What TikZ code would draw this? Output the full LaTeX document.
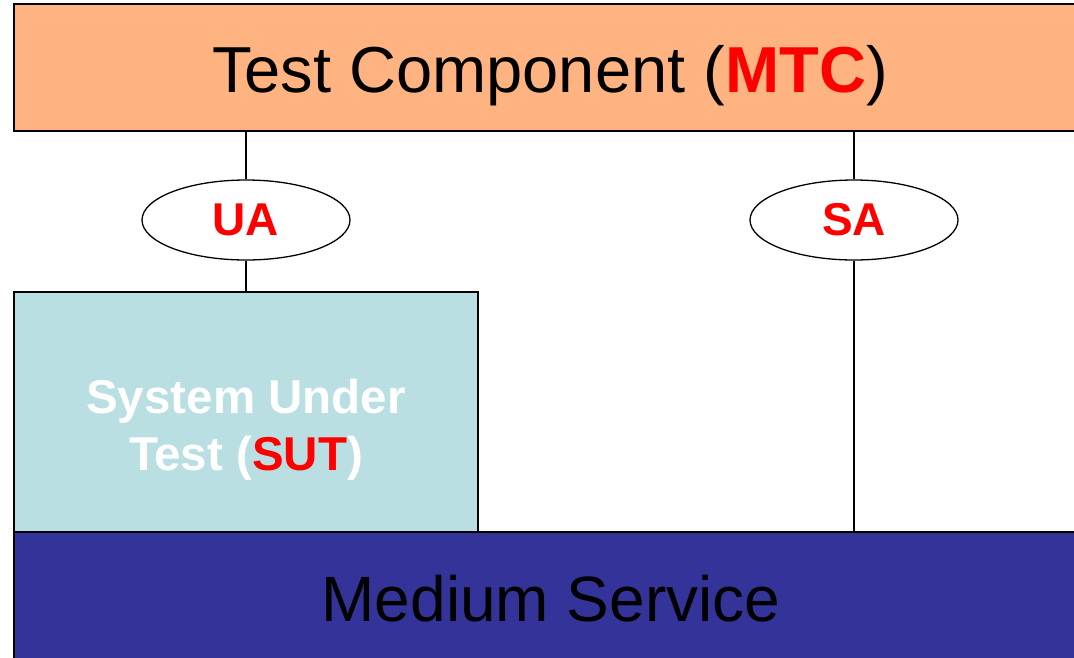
\documentclass[tikz,border=0pt]{standalone}
\usepackage{fontspec}
\setmainfont{Liberation Sans}
\usetikzlibrary{shapes.geometric}
\definecolor{mtcfill}{HTML}{FFB380}
\definecolor{sutfill}{HTML}{B9DFE3}
\definecolor{medfill}{HTML}{333399}
\definecolor{accent}{HTML}{FF0000}
\tikzset{
  layer/.style={draw=black, line width=1.6pt},
  adapter/.style={ellipse, draw=black, line width=1.3pt, fill=white,
    minimum width=208pt, minimum height=80pt, inner sep=0pt,
    font=\fontsize{46}{52}\selectfont\bfseries, text=accent},
  link/.style={draw=black, line width=1.3pt},
  bigtext/.style={font=\fontsize{64}{72}\selectfont, anchor=base, inner sep=0pt},
}
\begin{document}
\begin{tikzpicture}[x=1pt, y=-1pt]
  \useasboundingbox (0,0) rectangle (1074,657);
  % layers
  \path[layer, fill=mtcfill] (14,4) rectangle (1090,131);
  \coordinate (mtcbot) at (546,131);
  \path[layer, fill=sutfill] (14,292) rectangle (478,532);
  \coordinate (suttop) at (246,292);
  \path[layer, fill=medfill] (14,532) rectangle (1090,670);
  \coordinate (medtop) at (854,532);
  % adapters
  \node[adapter] (ua) at (246,220) {UA};
  \node[adapter] (sa) at (854,220) {SA};
  % connectors
  \draw[link] (ua.north) -- (ua.north |- mtcbot);
  \draw[link] (ua.south) -- (suttop);
  \draw[link] (sa.north) -- (sa.north |- mtcbot);
  \draw[link] (sa.south) -- (medtop);
  % labels
  \node[bigtext, font=\fontsize{65}{72}\selectfont] (mtc) at (550,92) {Test Component (\textcolor{accent}{\bfseries MTC})};
  \node[bigtext] (med) at (551,621) {Medium Service};
  \node[font=\fontsize{47.5}{57}\selectfont\bfseries, text=white, align=center, anchor=base] (sut) at (246,470)
    {System Under\\Test (\textcolor{accent}{SUT})};
\end{tikzpicture}
\end{document}
